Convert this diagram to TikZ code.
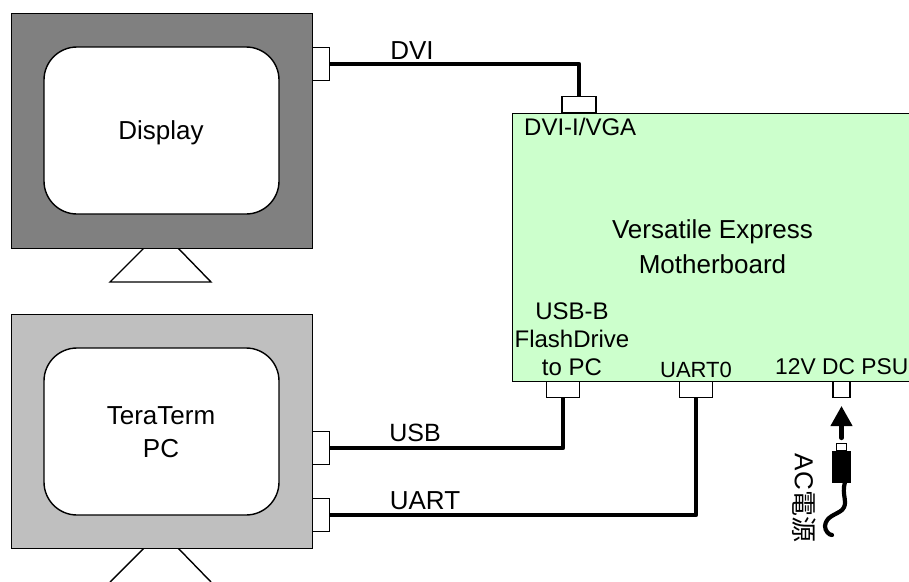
\documentclass[tikz,border=0pt]{standalone}
\usepackage{fontspec}
\setmainfont{Liberation Sans}
\newfontfamily\cjk{Noto Sans CJK JP}
\usetikzlibrary{arrows.meta}
\tikzset{
  x=1pt,y=-1pt,
  outl/.style={draw=black,line width=1.4pt},
  wire/.style={draw=black,line width=4.2pt,line join=round},
  port/.style={draw=black,line width=1.4pt,fill=white,rectangle,minimum width=#1,inner sep=0pt},
  lbl/.style={font=\fontsize{26}{30}\selectfont,inner sep=0pt,align=center,text=black},
  slbl/.style={font=\fontsize{24}{28}\selectfont,inner sep=0pt,align=center,text=black},
}
\begin{document}
\begin{tikzpicture}
\useasboundingbox (0,0) rectangle (909,581);
\clip (0,0) rectangle (909,581);
% stands
\draw[outl,fill=white] (144,248) -- (110,282) -- (211,282) -- (178,248);
\draw[outl,fill=white] (144,548) -- (110,582) (178,548) -- (211,582);
% monitors
\node[outl,fill=black!50,minimum width=301pt,minimum height=235pt,inner sep=0pt,anchor=north west] (dispframe) at (11,13) {};
\node[outl,fill=white,rounded corners=33pt,minimum width=235pt,minimum height=167pt,inner sep=0pt] (dispscreen) at (161.5,130.5) {};
\node[lbl] (disptext) at (161,133) {Display};
\node[outl,fill=black!25,minimum width=301pt,minimum height=234pt,inner sep=0pt,anchor=north west] (pcframe) at (11,314) {};
\node[outl,fill=white,rounded corners=33pt,minimum width=235pt,minimum height=167pt,inner sep=0pt] (pcscreen) at (161.5,431.5) {};
\node[lbl] (pctext) at (161,432) {TeraTerm\\[3pt]PC};
% motherboard
\node[outl,fill=green!20,minimum width=420pt,minimum height=268pt,inner sep=0pt,anchor=north west] (mb) at (512,113) {};
% ports
\node[port=17pt,minimum height=33pt,anchor=west] (dvim) at (312,64) {};
\node[port=34pt,minimum height=16pt,anchor=south] (dvib) at (579,113) {};
\node[port=17pt,minimum height=33pt,anchor=west] (usbpc) at (312,448) {};
\node[port=17pt,minimum height=33pt,anchor=west] (uartpc) at (312,515) {};
\node[port=33pt,minimum height=16pt,anchor=north] (usbb) at (563,381) {};
\node[port=33pt,minimum height=16pt,anchor=north] (uartb) at (696,381) {};
\node[port=17pt,minimum height=16pt,anchor=north] (psu) at (841.5,381) {};
% wires
\draw[wire] (dvim.east) -| (dvib.north);
\draw[wire] (usbpc.east) -| (usbb.south);
\draw[wire] (uartpc.east) -| (uartb.south);
% labels
\node[font=\fontsize{26}{30}\selectfont,inner sep=0pt] (ldvi) at (412,51) {DVI};
\node[font=\fontsize{25}{30}\selectfont,inner sep=0pt] (lusb) at (415,433) {USB};
\node[font=\fontsize{26}{30}\selectfont,inner sep=0pt] (luart) at (425,501) {UART};
\node[slbl,anchor=west] (ldviport) at (524,127) {DVI-I/VGA};
\node[lbl] (lmb) at (712.5,247) {Versatile Express\\[5pt]Motherboard};
\node[slbl] (lusbb) at (572,339) {USB-B\\[0pt]FlashDrive\\[0pt]to PC};
\node[font=\fontsize{22}{26}\selectfont,inner sep=0pt] (luart0) at (696,370) {UART0};
\node[font=\fontsize{22.8}{26}\selectfont,inner sep=0pt,anchor=west] (lpsu) at (775,367) {12V DC PSU};
% plug
\node[outl,fill=white,minimum width=10pt,minimum height=7pt,inner sep=0pt,anchor=south] (plugtip) at (841.5,451) {};
\node[outl,fill=black,minimum width=17pt,minimum height=31pt,inner sep=0pt,anchor=north] (plugbody) at (841.5,451) {};
\coordinate (arrowstart) at (841.5,438);
\coordinate (arrowtip) at (841.5,406);
\draw[line width=4.2pt,line cap=round,-{Triangle[length=20pt,width=21pt]}] (arrowstart) -- (arrowtip);
\coordinate (cablea) at (845,482);
\draw[line width=4.2pt,line cap=round] (cablea) .. controls (841,495) and (849,503) .. (842,510) .. controls (836,515) and (826,516) .. (825,526) .. controls (825,531) and (829,535) .. (832,535);
\node[font=\fontsize{26}{30}\selectfont,inner sep=0pt,rotate=-90] (lac) at (804.5,498) {AC{\cjk 電源}};
\end{tikzpicture}
\end{document}
